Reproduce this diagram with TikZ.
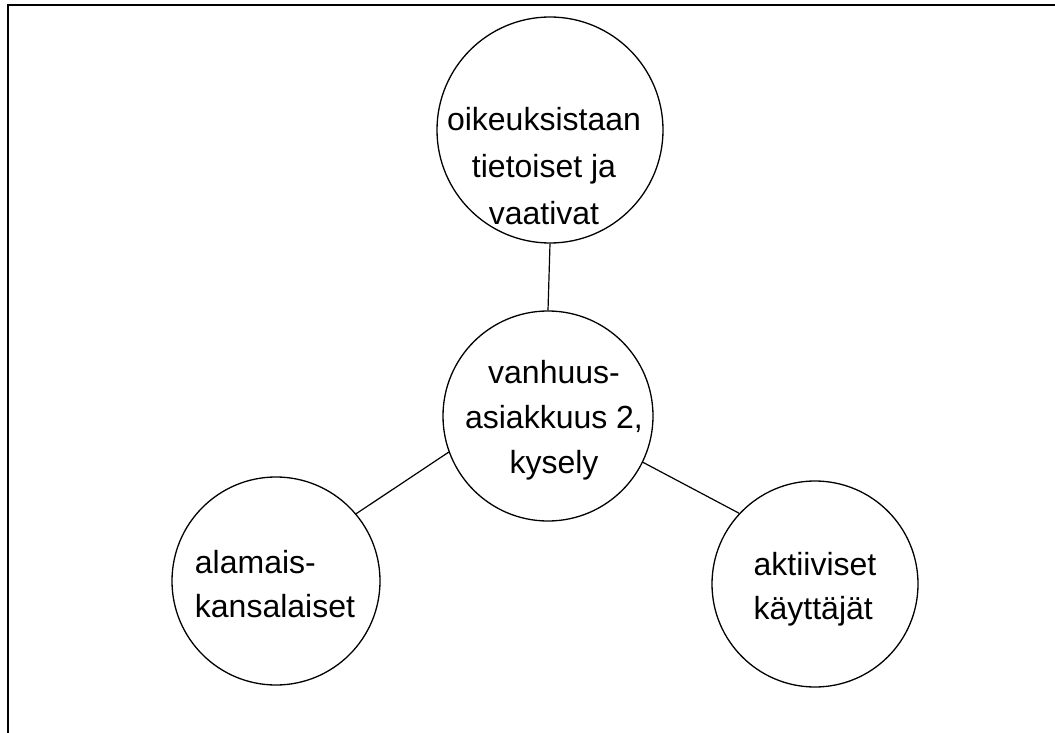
\documentclass[tikz,border=0pt]{standalone}
\usepackage{fontspec}
\setmainfont{Liberation Sans}
\begin{document}
\begin{tikzpicture}[x=1pt,y=-1pt,
  bubble/.style={circle,draw,line width=1.3pt,inner sep=0pt},
  txt/.style={inner sep=0pt,align=center,font=\fontsize{32}{47}\selectfont},
  txtm/.style={inner sep=0pt,align=center,font=\fontsize{32}{45}\selectfont},
  txtl/.style={inner sep=0pt,align=left,font=\fontsize{32}{44}\selectfont},
  link/.style={line width=1.2pt}]
\useasboundingbox (0,0) rectangle (1055,733);
% open frame: top and left edges only
\draw[line width=2pt] (8,733) -- (8,5) -- (1055,5);

% circles
\node[bubble,minimum size=226pt] (top) at (550,130) {};
\node[bubble,minimum size=210pt] (mid) at (548,416) {};
\node[bubble,minimum size=208pt] (left) at (276,581) {};
\node[bubble,minimum size=206pt] (right) at (815,584) {};

% labels (anchored at the baseline of their last line)
\node[txt,anchor=base] (toptxt) at (544,224) {oikeuksistaan\\tietoiset ja\\vaativat};
\node[txtm,anchor=base] (midtxt) at (554,473) {vanhuus-\\asiakkuus 2,\\kysely};
\node[txtl,anchor=base] (lefttxt) at (275,617) {alamais-\\kansalaiset};
\node[txtl,anchor=base] (righttxt) at (815,619) {aktiiviset\\käyttäjät};

% connectors
\draw[link] (top.south) -- (mid.north);
\draw[link] (mid.200) -- (left.40);
\draw[link] (mid.-26) -- (right.137);
\end{tikzpicture}
\end{document}
